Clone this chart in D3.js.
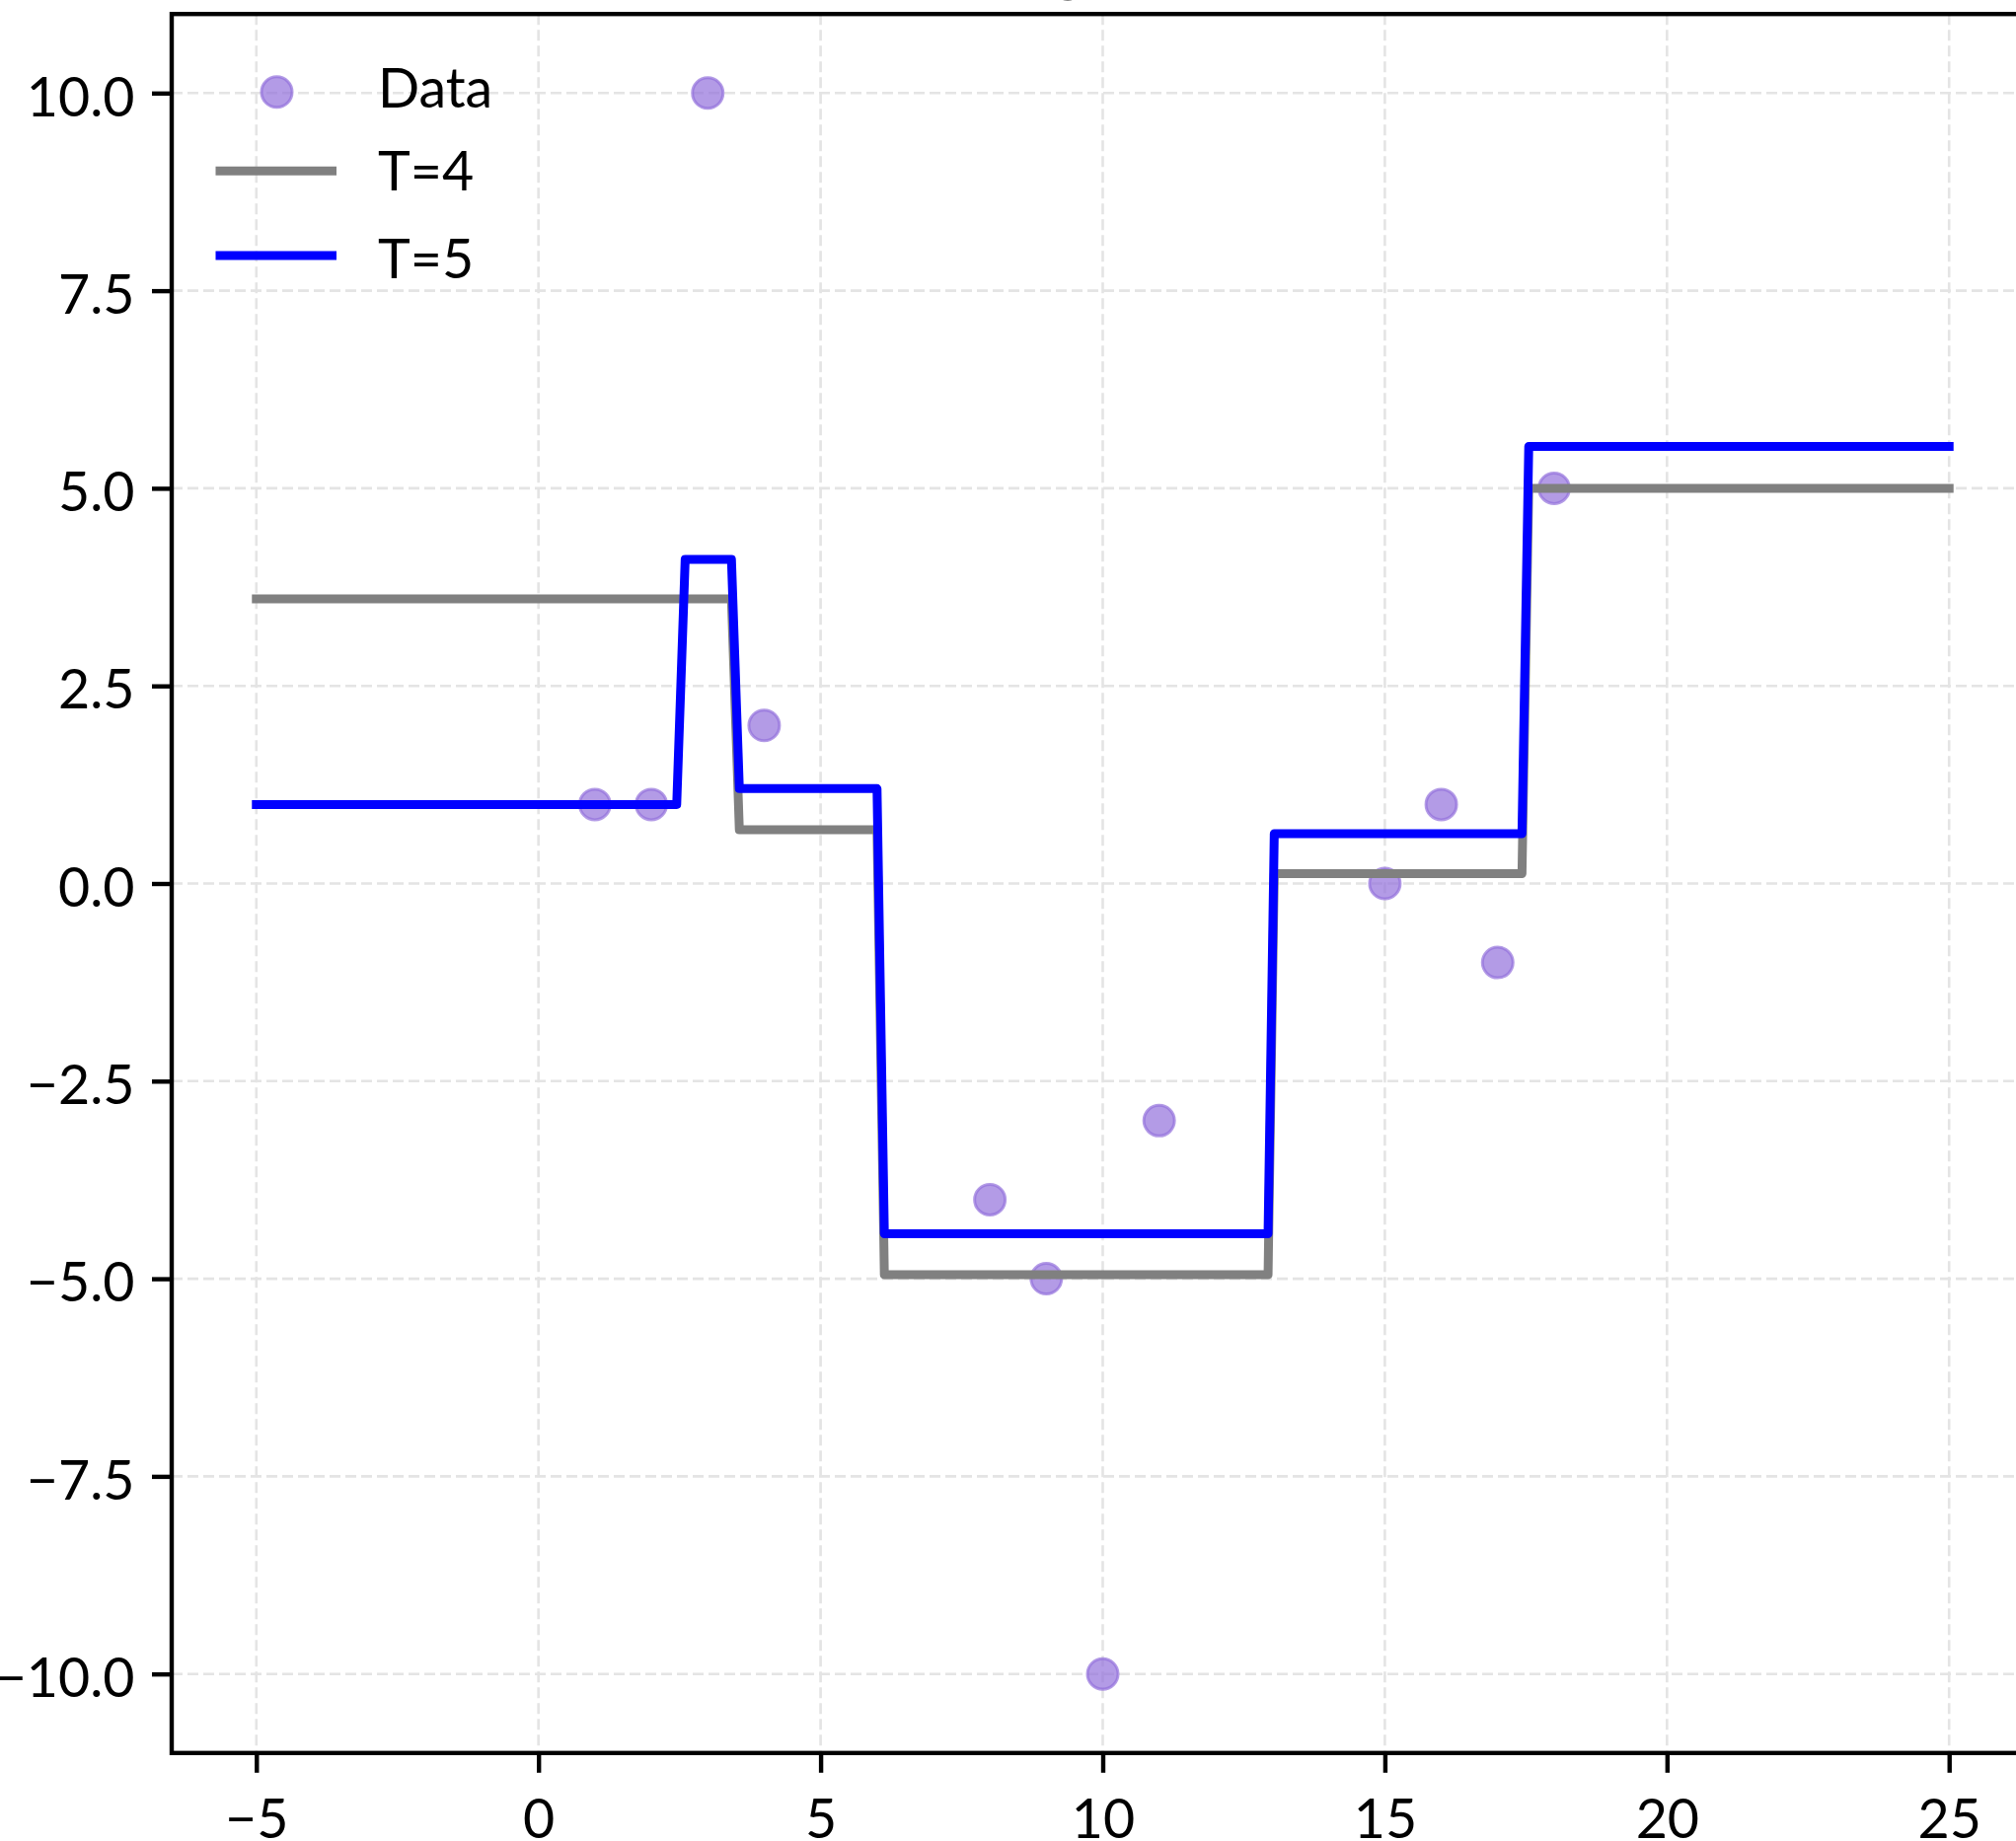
<!DOCTYPE html>
<html>
<head>
<meta charset="utf-8">
<script src="https://cdn.jsdelivr.net/npm/d3@7"></script>
<style>
  html, body { margin: 0; padding: 0; background: #ffffff; overflow: hidden; }
  svg { display: block; font-family: Lato, "Open Sans", "Noto Sans", sans-serif; }
</style>
</head>
<body>
<svg id="chart" width="2043" height="1866"></svg>
<script>
// Training observations
const dataX = [1, 2, 3, 4, 8, 9, 10, 11, 15, 16, 17, 18];
const dataY = [1, 1, 10, 2, -4, -5, -10, -3, 0, 1, -1, 5];

// Ensemble prediction after 4 rounds (polyline vertices)
const t4X = [-5, 3.42, 3.56, 6.0, 6.13, 12.93, 13.04, 17.43, 17.55, 25];
const t4Y = [3.6, 3.6, 0.68, 0.68, -4.95, -4.95, 0.125, 0.125, 5.0, 5.0];

// Ensemble prediction after 5 rounds (polyline vertices)
const t5X = [-5, 2.45, 2.6, 3.42, 3.56, 6.0, 6.13, 12.93, 13.04, 17.43, 17.55, 25];
const t5Y = [1.0, 1.0, 4.1, 4.1, 1.2, 1.2, -4.43, -4.43, 0.63, 0.63, 5.53, 5.53];

const xTicks = [-5, 0, 5, 10, 15, 20, 25];
const yTicks = [-10, -7.5, -5, -2.5, 0, 2.5, 5, 7.5, 10];
const legendLabels = ["Data", "T=4", "T=5"];
const titleText = "Boosting Iterations";

const svg = d3.select("#chart");
const W = 2043, H = 1866;
const plot = { left: 174, top: 14.2, right: 2061, bottom: 1776.8 };

const x = d3.scaleLinear().domain([-6.5, 26.5]).range([plot.left, plot.right]);
const y = d3.scaleLinear().domain([-11, 11]).range([plot.bottom, plot.top]);

const fontSize = 55.5;
const pointColor = "#9370DB";
const lineW = 9;

// Grid
const grid = svg.append("g").attr("class", "grid")
  .attr("stroke", "#e4e4e4").attr("stroke-width", 2.6).attr("stroke-dasharray", "11,5");
grid.selectAll("line.gx").data(xTicks).join("line").attr("class", "gx")
  .attr("x1", d => x(d)).attr("x2", d => x(d))
  .attr("y1", plot.top).attr("y2", plot.bottom);
grid.selectAll("line.gy").data(yTicks).join("line").attr("class", "gy")
  .attr("y1", d => y(d)).attr("y2", d => y(d))
  .attr("x1", plot.left).attr("x2", plot.right);

// Scatter of observations
const pts = dataX.map((d, i) => ({ x: d, y: dataY[i] }));
svg.append("g").attr("class", "points")
  .selectAll("circle").data(pts).join("circle")
  .attr("cx", d => x(d.x)).attr("cy", d => y(d.y)).attr("r", 15.5)
  .attr("fill", pointColor).attr("fill-opacity", 0.7)
  .attr("stroke", pointColor).attr("stroke-opacity", 0.7).attr("stroke-width", 3);

// Prediction curves
const line = d3.line().x(d => x(d[0])).y(d => y(d[1]));
const series = [
  { xs: t4X, ys: t4Y, color: "#808080" },
  { xs: t5X, ys: t5Y, color: "#0000ff" }
];
svg.append("g").attr("class", "curves")
  .selectAll("path").data(series).join("path")
  .attr("d", s => line(s.xs.map((v, i) => [v, s.ys[i]])))
  .attr("fill", "none").attr("stroke", s => s.color)
  .attr("stroke-width", lineW).attr("stroke-linejoin", "round").attr("stroke-linecap", "square");

// Axes
const xAxis = d3.axisBottom(x).tickValues(xTicks).tickFormat(d3.format("d"))
  .tickSize(20).tickPadding(18).tickSizeOuter(0);
const yAxis = d3.axisLeft(y).tickValues(yTicks).tickFormat(d3.format(".1f"))
  .tickSize(20).tickPadding(17.5).tickSizeOuter(0);

const gx = svg.append("g").attr("transform", `translate(0,${plot.bottom})`).call(xAxis);
const gy = svg.append("g").attr("transform", `translate(${plot.left},0)`).call(yAxis);
[gx, gy].forEach(g => {
  g.select(".domain").remove();
  g.selectAll(".tick line").attr("stroke", "#000").attr("stroke-width", 4.4);
  g.selectAll(".tick text").attr("fill", "#000").attr("font-size", fontSize)
    .attr("font-family", "Lato, 'Open Sans', sans-serif");
});
gx.selectAll(".tick text").attr("dy", "0.86em");
gy.selectAll(".tick text").attr("dy", "0.41em");

// Spines
svg.append("rect")
  .attr("x", plot.left).attr("y", plot.top)
  .attr("width", plot.right - plot.left).attr("height", plot.bottom - plot.top)
  .attr("fill", "none").attr("stroke", "#000").attr("stroke-width", 4.4);

// Title (sits above the axes)
svg.append("text")
  .attr("x", (plot.left + plot.right) / 2).attr("y", -11)
  .attr("text-anchor", "middle").attr("font-size", 66.6).attr("fill", "#000")
  .text(titleText);

// Legend
const lg = svg.append("g").attr("class", "legend");
const rows = [
  { label: legendLabels[0], type: "point", cy: 93.3, base: 108.5 },
  { label: legendLabels[1], type: "line", color: "#808080", cy: 173.3, base: 193 },
  { label: legendLabels[2], type: "line", color: "#0000ff", cy: 259, base: 281.5 }
];
rows.forEach(r => {
  if (r.type === "point") {
    lg.append("circle").attr("cx", 280.5).attr("cy", r.cy).attr("r", 15.5)
      .attr("fill", pointColor).attr("fill-opacity", 0.7)
      .attr("stroke", pointColor).attr("stroke-opacity", 0.7).attr("stroke-width", 3);
  } else {
    lg.append("line").attr("x1", 223).attr("x2", 336.5).attr("y1", r.cy).attr("y2", r.cy)
      .attr("stroke", r.color).attr("stroke-width", lineW).attr("stroke-linecap", "square");
  }
  lg.append("text").attr("x", 383).attr("y", r.base)
    .attr("font-size", fontSize).attr("fill", "#000").text(r.label);
});
</script>
</body>
</html>
